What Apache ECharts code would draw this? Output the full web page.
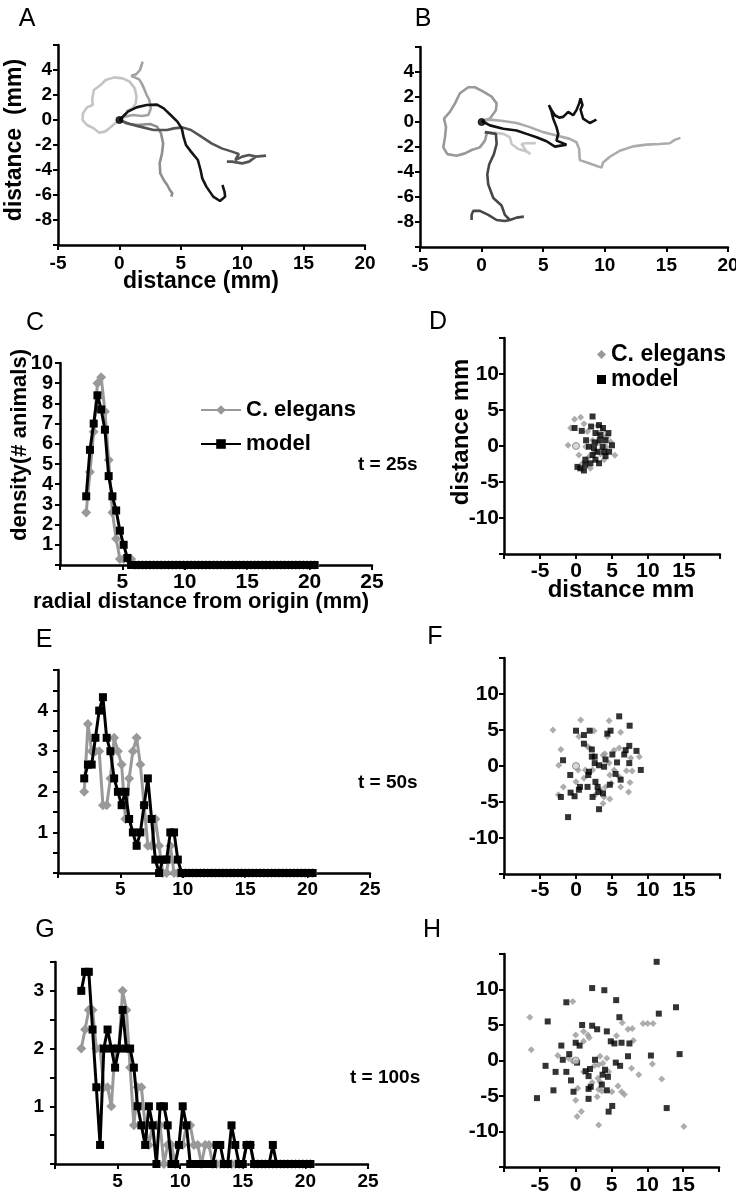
<!DOCTYPE html>
<html><head><meta charset="utf-8">
<script src="https://cdn.jsdelivr.net/npm/echarts@6/dist/echarts.min.js"></script>
<style>html,body{margin:0;padding:0;background:#fff}#c{width:736px;height:1199px}</style>
</head><body><div id="c"></div>
<script>
// ---------- Panel A trajectories (x mm, y mm) ----------
const trackA_light = [[0,0],[-0.42,-0.32],[-0.83,-0.67],[-1.17,-0.93],[-1.67,-1.01],[-2.08,-0.67],[-2.64,-0.4],[-3.0,0],[-2.97,0.53],[-2.64,1.01],[-2.17,1.2],[-2.22,1.65],[-2.08,2.4],[-1.53,2.8],[-1.11,3.2],[-0.42,3.41],[0.28,3.33],[0.83,3.07],[1.25,2.53],[1.39,1.87],[1.33,1.33],[1.06,0.93],[0.56,0.72]];
const trackA_up = [[0,0],[0.42,0.27],[1.11,0.4],[1.81,0.32],[2.36,0.4],[2.56,0.93],[2.44,1.6],[2.22,2.0],[2.0,2.53],[1.81,2.93],[1.61,3.25],[1.25,3.41],[0.97,3.52],[1.39,3.68],[1.67,4.0],[1.81,4.4],[1.89,4.67]];
const trackA_down = [[0,0],[0.56,-0.27],[1.39,-0.4],[2.5,-0.32],[3.06,-0.53],[3.39,-1.07],[3.56,-1.87],[3.47,-2.67],[3.28,-3.47],[3.33,-4.27],[3.61,-4.8],[3.89,-5.2],[4.11,-5.6],[4.31,-5.87],[4.22,-6.13]];
const trackA_right = [[0,0],[0.83,-0.32],[1.67,-0.53],[2.78,-0.8],[3.89,-0.8],[4.44,-0.67],[5.14,-0.59],[5.83,-0.8],[6.67,-1.33],[7.5,-1.87],[8.33,-2.27],[9.17,-2.53],[9.72,-2.72],[9.44,-3.2],[10.0,-2.93],[10.56,-2.8],[11.11,-2.93],[11.94,-2.85],[11.11,-2.93],[10.56,-3.33],[10.0,-3.47],[9.17,-3.33],[8.75,-3.33]];
const trackA_black = [[0,0],[0.33,0.32],[0.69,0.67],[1.39,1.01],[2.22,1.2],[3.06,1.23],[3.61,0.93],[4.17,0.4],[4.72,-0.13],[5.08,-0.67],[5.22,-1.33],[5.42,-2.0],[5.83,-2.53],[6.39,-3.2],[6.61,-4.0],[6.75,-4.67],[7.08,-5.33],[7.64,-6.13],[8.19,-6.48],[8.61,-6.13],[8.56,-5.73],[8.39,-5.2]];
// ---------- Panel B trajectories ----------
const trackB_loop = [[0,0.08],[0.68,0.27],[1.16,0.95],[1.22,1.49],[0.81,2.03],[0.14,2.43],[-0.54,2.78],[-1.08,2.78],[-1.76,2.3],[-2.16,1.49],[-2.57,0.81],[-3.05,0.27],[-2.89,-0.41],[-2.97,-1.22],[-3.11,-2.03],[-2.78,-2.57],[-2.03,-2.7],[-1.35,-2.51],[-0.81,-2.24],[-0.14,-2.03],[0.27,-1.49],[0.41,-0.95],[0.27,-0.81]];
const trackB_light = [[0.27,-0.81],[1.22,-0.89],[1.76,-0.95],[2.3,-1.22],[2.43,-1.76],[2.97,-2.16],[3.65,-2.35],[3.97,-2.57],[3.65,-2.35],[3.24,-1.76],[3.6,-1.7],[4.4,-1.7]];
const trackB_long = [[0,0.08],[0.68,0.19],[1.76,0.08],[2.84,-0.08],[3.92,-0.41],[5.0,-0.81],[6.08,-1.08],[7.16,-1.35],[7.7,-1.62],[7.92,-2.16],[7.97,-3.05],[8.78,-3.32],[9.73,-3.65],[9.86,-3.24],[10.41,-2.78],[11.22,-2.3],[12.3,-1.95],[13.38,-1.81],[14.46,-1.76],[15.27,-1.7],[15.68,-1.43],[16.14,-1.27]];
const trackB_down = [[0.27,-0.81],[1.16,-0.95],[1.22,-1.76],[1.0,-2.57],[0.62,-3.38],[0.46,-4.19],[0.54,-5.0],[0.95,-6.08],[1.62,-6.68],[1.89,-7.43],[2.3,-7.84],[2.84,-7.65],[3.43,-7.57],[2.84,-7.65],[2.3,-7.84],[1.89,-7.92],[1.22,-7.84],[0.54,-7.43],[-0.14,-7.11],[-0.68,-7.11],[-0.81,-7.43],[-0.81,-7.84]];
const trackB_black = [[0,0.08],[0.68,-0.27],[1.76,-0.54],[2.84,-0.68],[3.65,-0.95],[4.46,-1.22],[5.27,-1.54],[5.95,-1.97],[6.89,-1.81],[6.08,-1.49],[6.22,-0.95],[6.08,-0.41],[5.81,0.27],[5.68,0.81],[5.46,1.35],[5.68,0.95],[5.95,0.54],[6.3,0.35],[6.62,0.41],[7.03,0.81],[7.43,0.54],[7.7,0.95],[7.92,1.49],[8.03,1.89],[8.19,1.35],[8.03,1.0],[8.24,0.27],[8.78,-0.08],[9.32,0.19]];
const originPoint = [[0,0]];

// ---------- Radial density histograms ----------
const radialBins = [2.1,2.4,2.7,3.0,3.3,3.6,3.9,4.2,4.5,4.8,5.1,5.4,5.7,6.0,6.3,6.6,6.9,7.2,7.5,7.8,8.1,8.4,8.7,9.0,9.3,9.6,9.9,10.2,10.5,10.8,11.1,11.4,11.7,12.0,12.3,12.6,12.9,13.2,13.5,13.8,14.1,14.4,14.7,15.0,15.3,15.6,15.9,16.2,16.5,16.8,17.1,17.4,17.7,18.0,18.3,18.6,18.9,19.2,19.5,19.8,20.1,20.4];
const elegans25 = [2.6,4.6,6.6,9.0,9.3,7.6,5.2,2.6,1.3,0.3, 0.3,0.3,0.3,0,0,0,0,0,0,0, 0,0,0,0,0,0,0,0,0,0, 0,0,0,0,0,0,0,0,0,0, 0,0,0,0,0,0,0,0,0,0, 0,0,0,0,0,0,0,0,0,0, 0,0];
const model25   = [3.4,5.7,7.0,8.4,7.7,6.7,4.4,3.4,2.7,1.7, 1.0,0.35,0,0,0,0,0,0,0,0, 0,0,0,0,0,0,0,0,0,0, 0,0,0,0,0,0,0,0,0,0, 0,0,0,0,0,0,0,0,0,0, 0,0,0,0,0,0,0,0,0,0, 0,0];
const elegans50 = [2.0,3.67,3.0,3.0,3.0,1.67,1.67,2.33,3.33,3.0, 2.67,1.33,2.33,3.0,3.33,2.67,1.67,0.67,0.67,1.33, 0.67,0,0,0.67,0,0,0,0,0,0, 0,0,0,0,0,0,0,0,0,0, 0,0,0,0,0,0,0,0,0,0, 0,0,0,0,0,0,0,0,0,0, 0,0];
const model50   = [2.33,2.67,2.67,3.33,4.0,4.33,3.33,3.0,2.33,2.0, 1.67,2.0,1.33,1.0,0.67,1.0,1.67,2.33,1.33,0.33, 0,0.33,0.33,1.0,1.0,0.33,0,0,0,0, 0,0,0,0,0,0,0,0,0,0, 0,0,0,0,0,0,0,0,0,0, 0,0,0,0,0,0,0,0,0,0, 0,0];
const elegans100 = [2.0,2.33,2.67,2.67,2.0,2.0,1.33,1.33,1.0,2.0, 2.0,3.0,2.67,1.67,0.67,1.33,1.33,0.67,0.33,0.67, 0.67,0.67,0,0.33,0.33,0,0.33,0.33,0.67,0.67, 0.33,0.33,0,0.33,0.33,0,0,0,0,0, 0,0,0,0,0.33,0.33,0,0,0,0, 0,0,0,0,0,0,0,0,0,0, 0,0];
const model100   = [3.0,3.33,3.33,2.33,1.33,0.33,2.0,2.33,2.0,1.67, 2.0,2.67,2.0,2.0,1.67,1.0,0.67,0.33,1.0,0.67, 0,1.0,1.0,0.67,0,0,0.33,1.0,0.67,0, 0,0,0,0,0,0,0.33,0.33,0,0, 0.67,0.33,0,0,0.33,0.33,0,0,0,0, 0,0.33,0,0,0,0,0,0,0,0, 0,0];

// ---------- Positions at t = 25 s, 50 s, 100 s ----------
const posElegans25 = [[-0.2,3.7],[0.65,4.0],[-0.75,2.5],[1.1,3.1],[1.6,2.0],[3.0,2.8],[3.7,2.1],[-1.1,0.1],[0.4,-1.25],[1.8,-1.5],[2.7,-0.8],[3.4,-1.1],[4.2,-0.1],[5.4,-1.3],[4.8,0.6],[4.35,1.3],[2.3,0.8],[3.0,0.4],[2.0,-3.1],[0.9,-2.4],[3.9,-1.9],[3.2,1.8],[2.5,-1.0],[1.35,-0.1],[4.0,1.2]];
const posModel25 = [[2.3,4.1],[-0.2,2.5],[0.8,2.1],[2.1,2.7],[3.2,2.9],[3.75,2.5],[4.5,1.8],[4.1,0.8],[3.3,0.8],[2.6,0.5],[1.8,-0.1],[1.4,0.8],[3.7,-0.1],[5.0,0.1],[4.6,-0.8],[3.0,-0.8],[2.7,-1.9],[2.0,-2.4],[1.3,-2.6],[0.6,-3.1],[0.2,-2.9],[1.1,-3.4],[3.2,-2.4],[2.3,-1.25],[4.1,-1.4],[3.9,-0.8],[2.5,-0.3],[3.4,1.5],[2.7,1.8],[1.3,-1.9]];
const posElegans50 = [[-3.2,5.0],[0.65,6.4],[4.6,6.3],[-2.1,2.3],[-2.4,0.1],[0.4,4.1],[2.5,4.9],[4.35,4.1],[1.6,2.7],[1.9,2.5],[4.0,1.7],[5.3,2.2],[6.0,2.5],[6.2,4.7],[7.6,1.1],[8.8,1.3],[7.8,-0.7],[7.0,-0.65],[6.0,-1.5],[5.3,-0.55],[4.7,-1.25],[4.9,-2.4],[6.2,-2.9],[7.3,-3.6],[7.5,-2.3],[4.1,-2.9],[3.9,-4.3],[4.7,-4.6],[3.75,-5.2],[2.7,-4.0],[3.4,-3.3],[-1.75,-2.9],[-2.45,-4.0],[0,-2.2],[0.3,-0.55],[1.1,-1.7],[1.3,-0.55],[2.3,-0.55],[4.6,0.4],[3.75,1.5]];
const posModel50 = [[0,4.9],[1.1,4.3],[1.9,4.9],[1.1,3.1],[2.2,2.3],[2.2,1.3],[2.6,1.3],[2.6,0.4],[3.2,0.1],[3.9,-0.1],[4.1,0.9],[4.35,4.5],[4.8,4.9],[5.05,1.6],[5.7,0.5],[6.0,6.9],[6.2,-1.9],[6.7,1.6],[6.9,2.2],[7.4,2.8],[7.4,0.4],[7.45,5.6],[8.4,2.1],[9.0,-0.55],[-1.8,0.8],[-2.1,-4.3],[-0.8,-1.25],[-0.75,-3.7],[-0.2,-4.2],[0.4,-3.3],[0.55,-2.9],[1.7,-1.25],[1.8,-0.8],[1.6,-2.9],[2.7,-2.2],[3.0,-2.9],[3.1,-3.6],[3.2,-6.0],[4.7,-2.6],[5.5,-1.1],[-1.1,-7.1],[2.3,-4.3],[3.75,-3.8]];
const posElegans100 = [[-6.4,6.1],[-6.2,1.5],[-0.4,8.3],[0,3.6],[1.1,4.1],[1.1,2.7],[1.7,3.6],[1.9,3.2],[-2.5,0.7],[-1.0,0.3],[-0.4,-0.1],[3.4,0.6],[4.35,0.3],[3.8,-0.4],[3.2,-0.6],[2.6,-0.75],[3.1,-2.5],[2.3,-3.1],[3.4,-3.0],[4.6,-1.6],[3.2,-4.1],[3.65,-4.3],[3.0,-5.1],[5.05,-4.4],[5.9,-3.6],[6.4,-4.4],[6.8,-4.8],[0.3,-3.9],[0,-5.6],[0.8,-7.2],[0.2,-7.9],[3.2,-9.1],[5.7,3.5],[6.5,5.3],[7.3,4.4],[7.9,4.5],[8.05,2.8],[9.4,5.2],[10.05,5.2],[10.8,5.2],[10.7,-0.5],[8.8,-2.0],[7.8,-1.1],[12.0,-2.6],[15.1,-9.3],[1.1,-1.6]];
const posModel100 = [[11.3,13.9],[2.3,10.2],[4.0,9.9],[-1.3,8.2],[5.65,8.5],[14.0,7.5],[11.6,6.6],[6.1,6.1],[-3.9,5.5],[0.9,5.0],[2.3,4.9],[3.0,4.4],[4.35,4.1],[0,2.5],[0.55,2.1],[-2.0,2.1],[4.9,2.7],[5.4,2.4],[6.4,2.5],[7.5,2.4],[7.3,0.6],[10.5,0.7],[14.5,0.9],[-0.9,0.9],[-1.8,0.1],[0.2,-0.3],[-4.2,-0.75],[-2.8,-1.6],[-1.3,-1.6],[-0.65,-2.8],[1.4,-1.5],[2.0,-1.2],[1.8,-2.2],[2.7,0.1],[4.1,-1.3],[4.5,-2.3],[3.75,-2.0],[5.6,-0.3],[6.2,-0.75],[-3.1,-4.2],[-0.3,-4.4],[1.8,-4.0],[2.1,-3.7],[1.8,-5.4],[3.65,-3.4],[4.35,-4.2],[-5.4,-5.3],[5.1,-6.4],[4.6,-7.2],[12.7,-6.7]];

// ---------- build ----------
const FONT = '"Liberation Sans", Arial, Helvetica, sans-serif';
const GRAY = '#999999';
function axis(gi, min, max, interval, fs, margin, fmt) {
  return {
    type: 'value', gridIndex: gi, min: min, max: max, interval: interval,
    axisLine: {show: true, onZero: false, lineStyle: {color: '#000', width: 2.5}},
    axisTick: {show: true, inside: false, length: 5, lineStyle: {color: '#000', width: 2}},
    minorTick: {show: false}, splitLine: {show: false}, splitArea: {show: false},
    axisLabel: {show: true, color: '#000', fontWeight: 'bold', fontFamily: FONT, fontSize: fs, margin: margin,
      hideOverlap: false, showMinLabel: true, showMaxLabel: true,
      formatter: fmt || function (v) { return String(v); }}
  };
}
const hideVals = (arr) => (v) => arr.some(a => Math.abs(a - v) < 1e-9) ? '' : String(v);
const intsOnly = (lo, hi) => (v) => (Math.abs(v - Math.round(v)) < 1e-9 && v >= lo && v <= hi) ? String(Math.round(v)) : '';

const grids = [
  {left: 58, top: 45, width: 307, height: 200},
  {left: 420, top: 47, width: 308, height: 200},
  {left: 60, top: 363, width: 312, height: 202},
  {left: 504, top: 338, width: 216, height: 216},
  {left: 58, top: 670, width: 312, height: 203},
  {left: 504, top: 658, width: 216, height: 216},
  {left: 55, top: 962, width: 313, height: 202},
  {left: 504, top: 954, width: 215, height: 213}
].map(g => Object.assign({containLabel: false, outerBoundsMode: 'none', show: false}, g));

const xAxes = [
  axis(0, -5, 20, 5, 19, 9),
  axis(1, -5, 20, 5, 19, 9),
  axis(2, 0, 25, 5, 21, 7, hideVals([0])),
  axis(3, -10, 20, 5, 21, 7, hideVals([-10, 20])),
  axis(4, 0, 25, 5, 19, 7, hideVals([0])),
  axis(5, -10, 20, 5, 21, 6, hideVals([-10, 20])),
  axis(6, 0, 25, 5, 19, 8, hideVals([0])),
  axis(7, -10, 20, 5, 21, 8, hideVals([-10, 20]))
];
const yAxes = [
  axis(0, -10, 6, 2, 19, 6, hideVals([-10, 6])),
  axis(1, -10, 6, 2, 19, 6, hideVals([-10, 6])),
  axis(2, 0, 10, 1, 20, 7, hideVals([0])),
  axis(3, -15, 15, 5, 21, 5, hideVals([-15, 15])),
  axis(4, 0, 5, 0.5, 19, 10, intsOnly(1, 4)),
  axis(5, -15, 15, 5, 21, 5, hideVals([-15, 15])),
  axis(6, 0, 3.5, 0.5, 19, 11, intsOnly(1, 3)),
  axis(7, -15, 15, 5, 21, 5, hideVals([-15, 15]))
];

function track(gi, data, color) {
  return {type: 'line', xAxisIndex: gi, yAxisIndex: gi, data: data, symbol: 'none', showSymbol: false,
    lineStyle: {color: color, width: 2.6}, itemStyle: {color: color}, silent: true, clip: false, z: 2};
}
function origin(gi, color, border, size) {
  return {type: 'scatter', xAxisIndex: gi, yAxisIndex: gi, data: originPoint, symbol: 'circle', symbolSize: size,
    itemStyle: {color: color, borderColor: border, borderWidth: 1}, silent: true, z: 6};
}
function hist(gi, name, vals, isModel) {
  const color = isModel ? '#000' : GRAY;
  return {type: 'line', name: name, xAxisIndex: gi, yAxisIndex: gi,
    data: radialBins.map((r, i) => [r, vals[i]]),
    symbol: isModel ? 'rect' : 'diamond', symbolSize: isModel ? 8 : 10, showSymbol: true, showAllSymbol: true,
    lineStyle: {color: color, width: 3}, itemStyle: {color: color}, clip: false, silent: true, z: isModel ? 4 : 3};
}
function pts(gi, name, data, isModel) {
  const color = isModel ? '#000' : GRAY;
  return {type: 'scatter', name: name, xAxisIndex: gi, yAxisIndex: gi, data: data,
    symbol: isModel ? 'rect' : 'diamond', symbolSize: isModel ? 6 : 7,
    itemStyle: {color: color}, silent: true, z: isModel ? 4 : 3};
}

const series = [
  hist(2, 'C. elegans', elegans25, false),
  hist(2, 'model', model25, true),
  track(0, trackA_light, '#c4c4c4'),
  track(0, trackA_up, '#a2a2a2'),
  track(0, trackA_down, '#8e8e8e'),
  track(0, trackA_right, '#545454'),
  track(0, trackA_black, '#141414'),
  origin(0, '#000', '#000', 7),
  track(1, trackB_loop, '#999999'),
  track(1, trackB_light, '#c8c8c8'),
  track(1, trackB_long, '#ababab'),
  track(1, trackB_down, '#474747'),
  track(1, trackB_black, '#111111'),
  origin(1, '#000', '#000', 7),
  pts(3, 'C. elegans', posElegans25, false),
  pts(3, 'model', posModel25, true),
  origin(3, '#d0d0d0', '#777', 7),
  hist(4, 'C. elegans', elegans50, false),
  hist(4, 'model', model50, true),
  pts(5, 'C. elegans', posElegans50, false),
  pts(5, 'model', posModel50, true),
  origin(5, '#d0d0d0', '#777', 7),
  hist(6, 'C. elegans', elegans100, false),
  hist(6, 'model', model100, true),
  pts(7, 'C. elegans', posElegans100, false),
  pts(7, 'model', posModel100, true),
  origin(7, '#d0d0d0', '#777', 7)
];

function txt(x, y, text, size, weight, align, rot) {
  return {type: 'text', x: x, y: y, rotation: rot || 0, silent: true, z: 10,
    style: {text: text, x: 0, y: 0, fill: '#000', fontFamily: FONT, fontSize: size, fontWeight: weight,
      align: align || 'center', verticalAlign: 'middle'}};
}
const R = Math.PI / 2;
const graphics = [
  txt(27, 19, 'A', 25, 'normal'), txt(423, 19, 'B', 25, 'normal'),
  txt(35, 323, 'C', 25, 'normal'), txt(438, 322, 'D', 25, 'normal'),
  txt(44, 640, 'E', 25, 'normal'), txt(435, 637, 'F', 25, 'normal'),
  txt(45, 930, 'G', 25, 'normal'), txt(432, 930, 'H', 25, 'normal'),
  txt(201, 282, 'distance (mm)', 23, 'bold'),
  txt(15, 140, 'distance  (mm)', 23, 'bold', 'center', R),
  txt(201, 602, 'radial distance from origin (mm)', 22, 'bold'),
  txt(20, 445, 'density(# animals)', 22, 'bold', 'center', R),
  txt(461, 432, 'distance mm', 24, 'bold', 'center', R),
  txt(621, 590, 'distance mm', 24, 'bold'),
  txt(358, 465, 't = 25s', 19, 'bold', 'left'),
  txt(358, 783, 't = 50s', 19, 'bold', 'left'),
  txt(350, 1078, 't = 100s', 19, 'bold', 'left')
];

const chart = echarts.init(document.getElementById('c'), null, {renderer: 'canvas', width: 736, height: 1199});
chart.setOption({
  animation: false,
  backgroundColor: '#fff',
  grid: grids,
  xAxis: xAxes,
  yAxis: yAxes,
  legend: [
    {show: true, left: 195, top: 394, orient: 'vertical', itemWidth: 40, itemHeight: 12, itemGap: 12,
      selectedMode: false, data: ['C. elegans', 'model'],
      textStyle: {fontFamily: FONT, fontWeight: 'bold', fontSize: 22, color: '#000'}},
    {show: true, left: 592, top: 338, orient: 'vertical', itemWidth: 9, itemHeight: 9, itemGap: 2,
      selectedMode: false,
      data: [{name: 'C. elegans', icon: 'diamond'}, {name: 'model', icon: 'rect'}],
      textStyle: {fontFamily: FONT, fontWeight: 'bold', fontSize: 23, color: '#000'}}
  ],
  series: series,
  graphic: graphics
});
</script></body></html>
